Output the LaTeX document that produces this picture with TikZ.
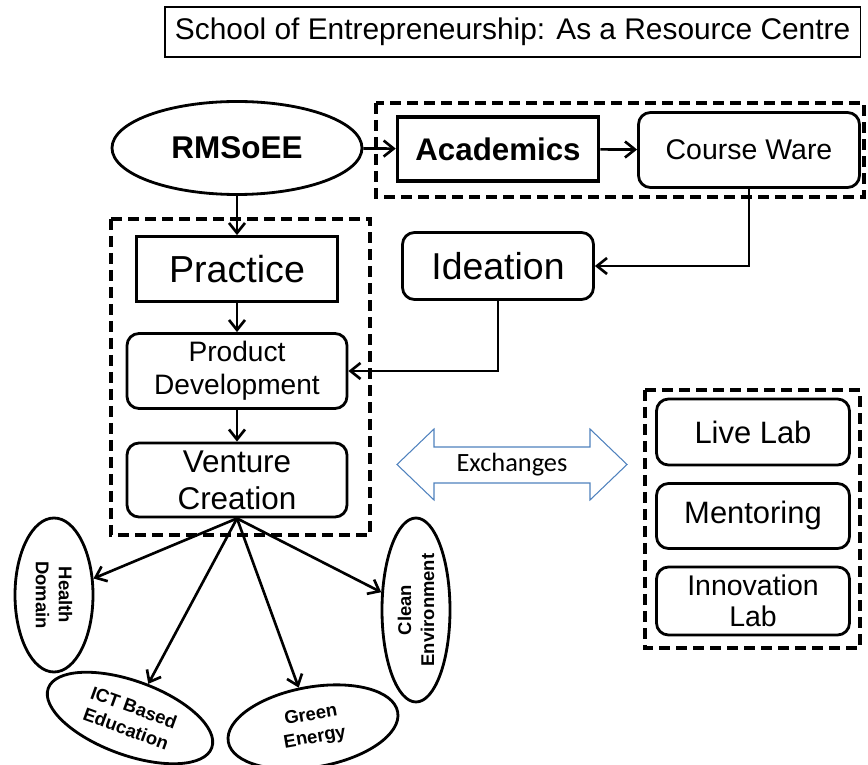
\documentclass[tikz,border=0pt]{standalone}
\usepackage{fontspec}
\setmainfont{Liberation Sans}
\newfontfamily\calibri{Carlito}
\usepackage{tikz}
\usetikzlibrary{calc,positioning,shapes,shapes.geometric,arrows.meta,fit}

\definecolor{exblue}{RGB}{79,129,189}

\begin{document}
\begin{tikzpicture}[x=0.2mm, y=-0.2mm,
            >={Straight Barb[length=2mm, width=3.2mm]},
            box/.style = {draw, line width=1.6pt, align=center, inner sep=1mm},
            roundbox/.style = {box, rounded corners=2.4mm},
            groupbox/.style = {draw, line width=2.3pt, dash pattern=on 2.2mm off 1.2mm},
            topic/.style = {ellipse, draw, line width=1.6pt, align=center, inner sep=0pt,
                    font=\bfseries\fontsize{10.5}{13}\selectfont},
            link/.style = {->, line width=1.5pt},
        ]
        \useasboundingbox (0,0) rectangle (868,765);

        % title
        \node[draw, line width=0.8pt, anchor=east, minimum height=10mm, inner xsep=2mm,
            font=\fontsize{17}{20}\selectfont] (title) at (861,32)
            {School of Entrepreneurship: As a Resource Centre};

        % groups
        \draw[groupbox] (376,103) rectangle (864,197);
        \draw[groupbox] (111,219) rectangle (370,535);
        \draw[groupbox] (645,390) rectangle (860,648);

        % main flow
        \node[ellipse, draw, line width=1.6pt, minimum width=50mm, minimum height=18.6mm,
            font=\bfseries\fontsize{17.9}{20}\selectfont] (rmsoee) at (237,148) {RMSoEE};
        \node[box, line width=2pt, minimum width=40.2mm, minimum height=12.8mm,
            font=\bfseries\fontsize{17.8}{20}\selectfont] (academics) at (498,149) {Academics};
        \node[roundbox, minimum width=44.2mm, minimum height=15mm,
            font=\fontsize{16.2}{19}\selectfont] (courseware) at (749,150) {Course Ware};
        \node[roundbox, minimum width=38.2mm, minimum height=13.4mm,
            font=\fontsize{21.3}{24}\selectfont] (ideation) at (498,266) {Ideation};
        \node[box, minimum width=40.2mm, minimum height=13mm,
            font=\fontsize{21.4}{24}\selectfont] (practice) at (237,269) {Practice};
        \node[roundbox, minimum width=44mm, minimum height=15mm,
            font=\fontsize{16}{18.8}\selectfont] (product) at (237,371) {Product\\Development};
        \node[roundbox, minimum width=44mm, minimum height=14.8mm,
            font=\fontsize{17.9}{21}\selectfont] (venture) at (237,480) {Venture\\Creation};

        % resources
        \node[roundbox, minimum width=38.6mm, minimum height=13.2mm,
            font=\fontsize{17.6}{20}\selectfont] (livelab) at (753,432) {Live Lab};
        \node[roundbox, minimum width=38.6mm, minimum height=13mm,
            font=\fontsize{17.6}{20}\selectfont] (mentoring) at (753,516) {Mentoring};
        \node[roundbox, minimum width=38.6mm, minimum height=13.6mm, inner sep=0.5mm,
            font=\fontsize{16.2}{18}\selectfont] (innovation) at (753,601) {Innovation\\Lab};

        % domains
        \node[topic, rotate=-90, minimum width=30.8mm, minimum height=15.6mm] (health) at (54,595) {Health\\Domain};
        \node[topic, rotate=-20, minimum width=34.8mm, minimum height=14.8mm] (ict) at (130,718) {ICT Based\\Education};
        \node[topic, rotate=10, minimum width=34.4mm, minimum height=16mm] (green) at (313,727) {Green\\Energy};
        \node[topic, rotate=90, minimum width=36.8mm, minimum height=13.6mm] (clean) at (416,610) {Clean\\Environment};

        % exchanges
        \node[font=\calibri\fontsize{15}{17}\selectfont] (exch) at (512,465) {Exchanges};
        \draw[exblue, line width=0.6pt] (397,464.5) -- (434,429) -- (434,447) -- (590,447) -- (590,429)
            -- (627,464.5) -- (590,500) -- (590,483) -- (434,483) -- (434,500) -- cycle;

        % connectors
        \draw[link] (rmsoee) -- (academics);
        \draw[link] (academics) -- (courseware);
        \draw[link] (courseware.south) |- (ideation.east);
        \draw[link] (ideation.south) |- (product.east);
        \foreach \a/\b in {rmsoee/practice, practice/product, product/venture}
            {
                \draw[link] (\a) -- (\b);
            }
        \foreach \t in {health,ict,green,clean}
            {
                \draw[link] (venture.south) -- (\t);
            }
    \end{tikzpicture}
\end{document}
